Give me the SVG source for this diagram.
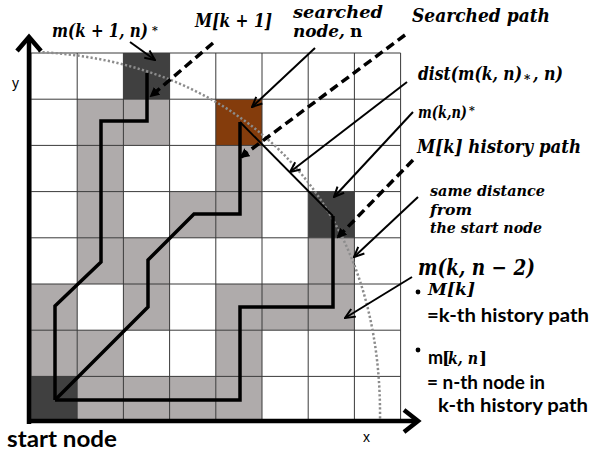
<svg xmlns="http://www.w3.org/2000/svg" width="592" height="457" viewBox="0 0 592 457">
<style>
.g{fill:#AFABAB}
.d{fill:#404040}
.b{fill:#843C0C}
.grid{stroke:#3a3a3a;stroke-width:1;fill:none}
.pth{fill:none;stroke:#000;stroke-width:3.5;stroke-linejoin:miter}
.sa{fill:none;stroke:#000;stroke-width:2;marker-end:url(#open)}
.da{fill:none;stroke:#000;stroke-width:3.5;stroke-dasharray:9 5;marker-end:url(#tri)}
.m{font-family:"DejaVu Serif","Liberation Serif",serif;font-weight:bold;font-style:italic;fill:#000}
.mu{font-family:"DejaVu Serif","Liberation Serif",serif;font-weight:bold;font-style:normal;fill:#000}
.s{font-family:Lato,"Liberation Sans",sans-serif;font-weight:bold;fill:#000}
.ax{font-family:"Liberation Sans",Arial,sans-serif;font-size:14px;fill:#000}
</style>
<defs>
<marker id="open" viewBox="0 0 12 12" refX="11" refY="6" markerWidth="12" markerHeight="12" orient="auto" markerUnits="userSpaceOnUse">
<path d="M1,1.5 L11,6 L1,10.5" fill="none" stroke="#000" stroke-width="2"/>
</marker>
<marker id="tri" viewBox="0 0 10 10" refX="8" refY="5" markerWidth="10" markerHeight="10" orient="auto" markerUnits="userSpaceOnUse">
<path d="M0,0 L10,5 L0,10 z" fill="#000"/>
</marker>
</defs>
<rect width="592" height="457" fill="#fff"/>

<g id="grid">
<rect class="d" x="123.4" y="53" width="46.2" height="46.2"/>
<rect class="g" x="77.2" y="99.2" width="46.2" height="46.2"/>
<rect class="g" x="123.4" y="99.2" width="46.2" height="46.2"/>
<rect class="b" x="215.8" y="99.2" width="46.2" height="46.2"/>
<rect class="g" x="77.2" y="145.4" width="46.2" height="46.2"/>
<rect class="g" x="215.8" y="145.4" width="46.2" height="46.2"/>
<rect class="g" x="77.2" y="191.6" width="46.2" height="46.2"/>
<rect class="g" x="169.6" y="191.6" width="46.2" height="46.2"/>
<rect class="g" x="215.8" y="191.6" width="46.2" height="46.2"/>
<rect class="d" x="308.2" y="191.6" width="46.2" height="46.2"/>
<rect class="g" x="77.2" y="237.8" width="46.2" height="46.2"/>
<rect class="g" x="123.4" y="237.8" width="46.2" height="46.2"/>
<rect class="g" x="308.2" y="237.8" width="46.2" height="46.2"/>
<rect class="g" x="31" y="284" width="46.2" height="46.2"/>
<rect class="g" x="123.4" y="284" width="46.2" height="46.2"/>
<rect class="g" x="215.8" y="284" width="46.2" height="46.2"/>
<rect class="g" x="262" y="284" width="46.2" height="46.2"/>
<rect class="g" x="308.2" y="284" width="46.2" height="46.2"/>
<rect class="g" x="31" y="330.2" width="46.2" height="46.2"/>
<rect class="g" x="77.2" y="330.2" width="46.2" height="46.2"/>
<rect class="g" x="215.8" y="330.2" width="46.2" height="46.2"/>
<rect class="d" x="31" y="376.4" width="46.2" height="46.2"/>
<rect class="g" x="77.2" y="376.4" width="46.2" height="46.2"/>
<rect class="g" x="123.4" y="376.4" width="46.2" height="46.2"/>
<rect class="g" x="169.6" y="376.4" width="46.2" height="46.2"/>
<rect class="g" x="215.8" y="376.4" width="46.2" height="46.2"/>
<path class="grid" d="M31,53V422.6M77.2,53V422.6M123.4,53V422.6M169.6,53V422.6M215.8,53V422.6M262,53V422.6M308.2,53V422.6M354.4,53V422.6M400.6,53V422.6M31,53H400.6M31,99.2H400.6M31,145.4H400.6M31,191.6H400.6M31,237.8H400.6M31,284H400.6M31,330.2H400.6M31,376.4H400.6"/>
</g>

<g id="same-distance-curve">
<path d="M38,52 C220,60 383,180 380,421" fill="none" stroke="#8c8c8c" stroke-width="2.5" stroke-dasharray="2.2 2.2"/>
</g>

<g id="paths">
<polyline class="pth" points="55,400 55,306 101,262 101,121 147,121 147,73"/>
<polyline class="pth" stroke-width="3" points="55,400 148,307 148,260 194,214 240,214 240,122"/>
<polyline class="pth" points="55,400 240,400 240,307 333,307 333,216"/>
<line x1="240" y1="122" x2="333" y2="216" stroke="#000" stroke-width="1.8"/>
</g>

<g id="axes">
<path d="M29,424V38" stroke="#000" stroke-width="4.5" fill="none"/>
<path d="M17,51 L29,37 L41,51" stroke="#000" stroke-width="4.5" fill="none"/>
<path d="M27,421H416" stroke="#000" stroke-width="4.5" fill="none"/>
<path d="M404,410 L418,421 L404,432" stroke="#000" stroke-width="4.5" fill="none"/>
<text class="ax" x="12" y="88">y</text>
<text class="ax" x="363" y="442">x</text>
</g>

<g id="connectors">
<line class="sa" x1="130" y1="42" x2="155" y2="60"/>
<line class="da" x1="213" y1="43" x2="151" y2="96"/>
<line class="sa" x1="315" y1="48" x2="252" y2="107"/>
<line class="da" x1="405" y1="35" x2="241" y2="157"/>
<line class="sa" x1="407" y1="82" x2="290" y2="172"/>
<line class="sa" x1="413" y1="112" x2="334" y2="197"/>
<line class="da" x1="413" y1="160" x2="338" y2="237"/>
<line class="sa" x1="418" y1="197" x2="354" y2="257"/>
<line class="sa" x1="412" y1="277" x2="345" y2="318"/>
</g>

<g id="labels">
<text class="m" x="52" y="37" font-size="18" textLength="96" lengthAdjust="spacingAndGlyphs">m(k + 1, n)</text>
<text class="m" x="152" y="34" font-size="11">*</text>
<text class="m" x="195" y="27" font-size="18" textLength="77" lengthAdjust="spacingAndGlyphs">M[k + 1]</text>
<text class="m" x="293" y="18" font-size="17" textLength="90" lengthAdjust="spacingAndGlyphs">searched</text>
<text class="m" x="293" y="37" font-size="17" textLength="52" lengthAdjust="spacingAndGlyphs">node,</text>
<text class="mu" x="350" y="37" font-size="17">n</text>
<text class="m" x="412" y="22" font-size="18" textLength="138" lengthAdjust="spacingAndGlyphs">Searched path</text>
<text class="m" x="418" y="80" font-size="18" textLength="104" lengthAdjust="spacingAndGlyphs">dist(m(k, n)</text>
<text class="m" x="524" y="84" font-size="12">*</text>
<text class="m" x="533" y="80" font-size="18" textLength="30" lengthAdjust="spacingAndGlyphs">, n)</text>
<text class="m" x="418" y="118" font-size="17" textLength="49" lengthAdjust="spacingAndGlyphs">m(k,n)</text>
<text class="m" x="469" y="114" font-size="11">*</text>
<text class="m" x="417" y="153" font-size="18" textLength="164" lengthAdjust="spacingAndGlyphs">M[k] history path</text>
<text class="m" x="430" y="196" font-size="14" textLength="115" lengthAdjust="spacingAndGlyphs">same distance</text>
<text class="m" x="430" y="215" font-size="14" textLength="42" lengthAdjust="spacingAndGlyphs">from</text>
<text class="m" x="430" y="233" font-size="14" textLength="112" lengthAdjust="spacingAndGlyphs">the start node</text>
<text class="m" x="418" y="275" font-size="22" textLength="117" lengthAdjust="spacingAndGlyphs">m(k, n − 2)</text>
<circle cx="418" cy="292" r="2.4" fill="#000"/>
<text class="m" x="428" y="295" font-size="17" textLength="47" lengthAdjust="spacingAndGlyphs">M[k]</text>
<text class="s" x="427" y="322" font-size="18" textLength="162" lengthAdjust="spacingAndGlyphs">=k-th history path</text>
<circle cx="418" cy="350" r="2.4" fill="#000"/>
<text class="s" x="428" y="364" font-size="18">m</text>
<text class="mu" x="442" y="364" font-size="17">[</text>
<text class="m" x="448" y="364" font-size="17" textLength="30" lengthAdjust="spacingAndGlyphs">k, n</text>
<text class="mu" x="479" y="364" font-size="17">]</text>
<text class="s" x="427" y="389" font-size="18" textLength="118" lengthAdjust="spacingAndGlyphs">= n-th node in</text>
<text class="s" x="438" y="412" font-size="18" textLength="150" lengthAdjust="spacingAndGlyphs">k-th history path</text>
<text class="s" x="7" y="447" font-size="22" textLength="110" lengthAdjust="spacingAndGlyphs">start node</text>
</g>
</svg>
